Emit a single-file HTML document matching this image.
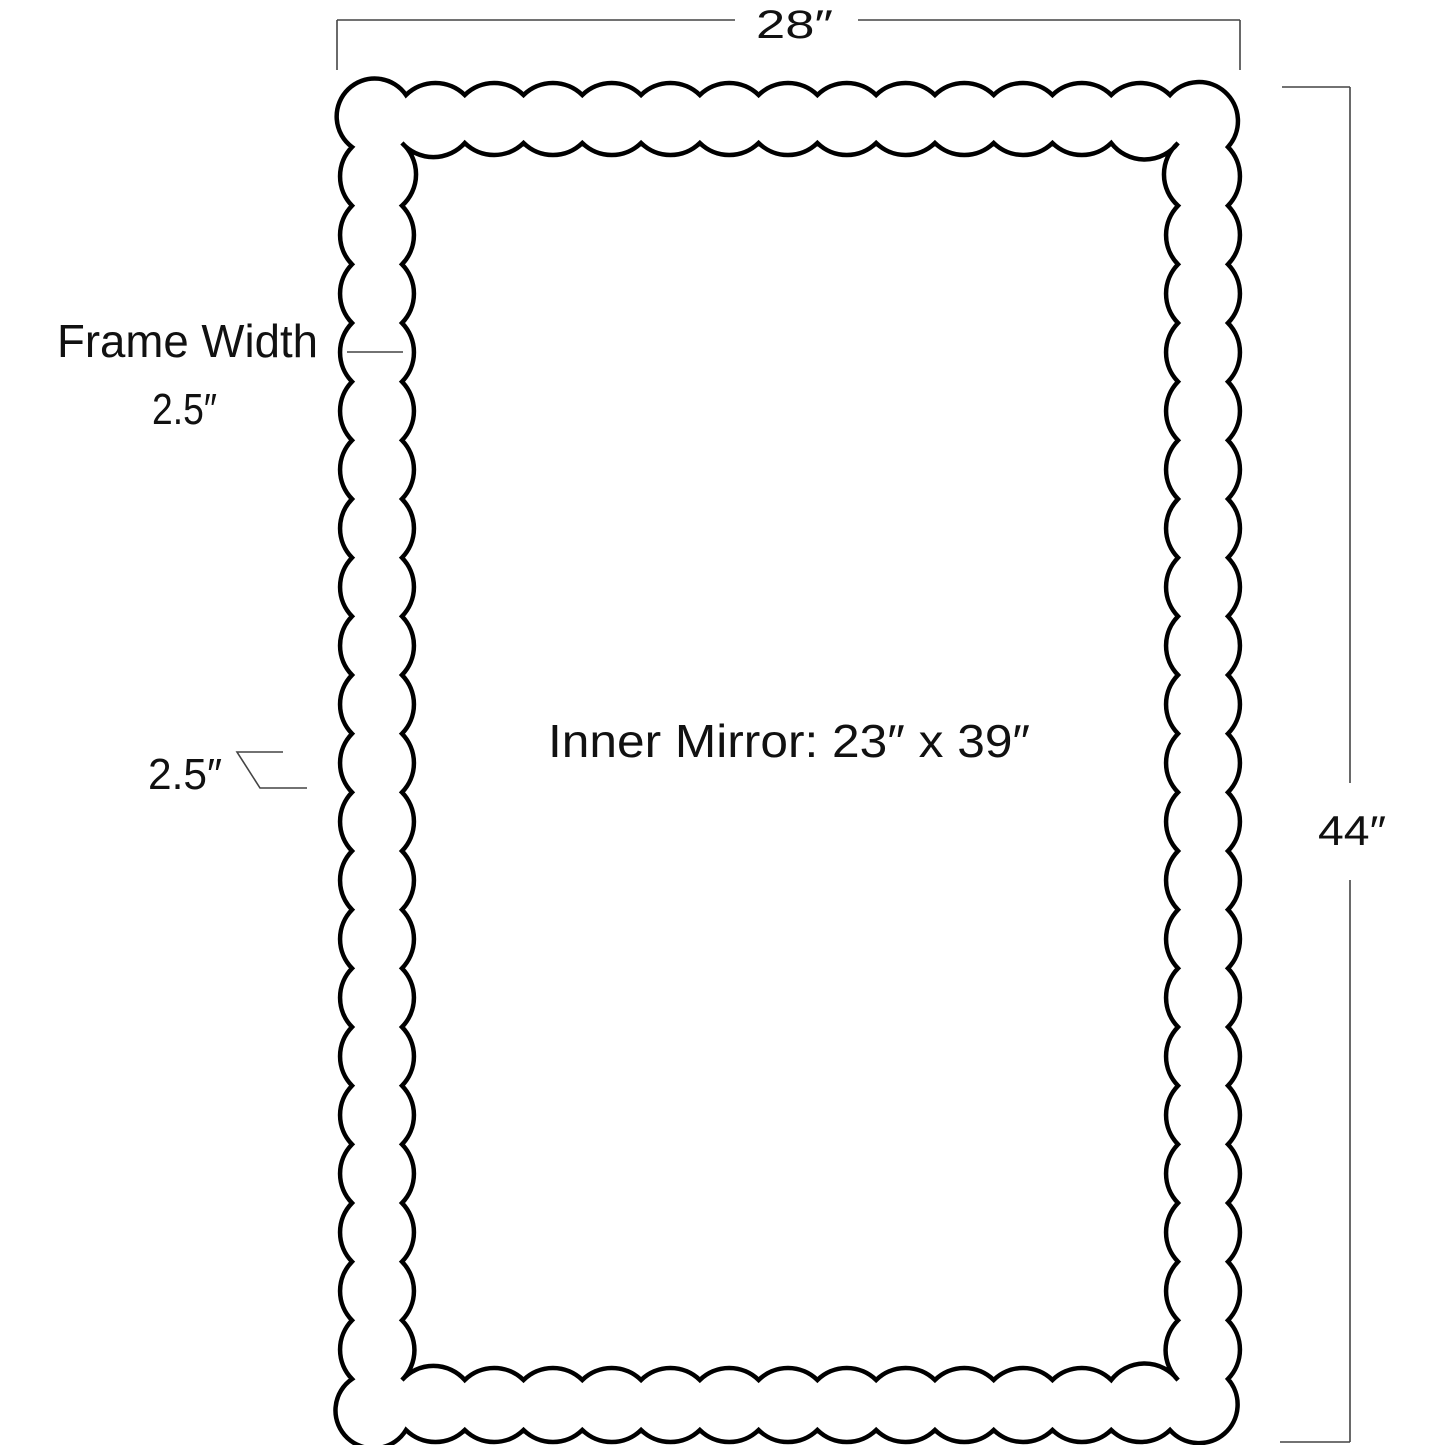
<!DOCTYPE html>
<html><head><meta charset="utf-8"><style>
html,body{margin:0;padding:0;background:#fff}
svg{display:block}
text{font-family:"Liberation Sans",sans-serif;fill:#111}
</style></head><body>
<svg id="s" width="1445" height="1445" viewBox="0 0 1445 1445" xmlns="http://www.w3.org/2000/svg">
<path id="outer" fill="none" stroke="#000" stroke-width="4.5" stroke-linejoin="miter" d=""/>
<path id="inner" fill="none" stroke="#000" stroke-width="4.5" stroke-linejoin="miter" d=""/>
<g stroke="#444" stroke-width="1.6" fill="none">
<line x1="337" y1="20" x2="735" y2="20"/>
<line x1="858" y1="20" x2="1240" y2="20"/>
<line x1="337" y1="20" x2="337" y2="70"/>
<line x1="1240" y1="20" x2="1240" y2="70"/>
<line x1="1282" y1="87" x2="1350" y2="87"/>
<line x1="1350" y1="87" x2="1350" y2="783"/>
<line x1="1350" y1="880" x2="1350" y2="1442"/>
<line x1="1280" y1="1442" x2="1350" y2="1442"/>
<line x1="347" y1="352" x2="403" y2="352"/>
<polyline points="283,752 237,752 260,788 307,788"/>
</g>
<text x="756" y="38" font-size="40" textLength="77" lengthAdjust="spacingAndGlyphs">28″</text>
<text x="1318" y="845" font-size="42" textLength="68" lengthAdjust="spacingAndGlyphs">44″</text>
<text x="57" y="357" font-size="46" textLength="261" lengthAdjust="spacingAndGlyphs">Frame Width</text>
<text x="152" y="424" font-size="44" textLength="65" lengthAdjust="spacingAndGlyphs">2.5″</text>
<text x="148" y="789" font-size="44" textLength="74" lengthAdjust="spacingAndGlyphs">2.5″</text>
<text x="548" y="757" font-size="46" textLength="482" lengthAdjust="spacingAndGlyphs">Inner Mirror: 23″ x 39″</text>
</svg>
<script>
(function(){
var r=42, xs=[], ys=[];
for(var i=0;i<=13;i++) xs.push(406+i*(1170-406)/13);
for(var j=0;j<=21;j++) ys.push(147+j*(1379-147)/21);
var T=95,B=1430,L=352,R=1228,cr=38;
var d="M"+xs[0]+" "+T;
for(i=1;i<=13;i++) d+=" A"+r+" "+r+" 0 0 1 "+xs[i]+" "+T;
d+=" A"+cr+" "+cr+" 0 1 1 "+R+" "+ys[0];
for(j=1;j<=21;j++) d+=" A"+r+" "+r+" 0 0 1 "+R+" "+ys[j];
d+=" A"+cr+" "+cr+" 0 1 1 "+xs[13]+" "+B;
for(i=12;i>=0;i--) d+=" A"+r+" "+r+" 0 0 1 "+xs[i]+" "+B;
d+=" A"+cr+" "+cr+" 0 1 1 "+L+" "+ys[21];
for(j=20;j>=0;j--) d+=" A"+r+" "+r+" 0 0 1 "+L+" "+ys[j];
d+=" A"+cr+" "+cr+" 0 1 1 "+xs[0]+" "+T+" Z";
document.getElementById("outer").setAttribute("d",d);
var iT=143,iB=1380,iL=402,iR=1178;
var hx=[iL]; for(i=1;i<=12;i++) hx.push(xs[i]); hx.push(iR);
var vy=[iT]; for(j=1;j<=20;j++) vy.push(ys[j]); vy.push(iB);
var e="M"+iL+" "+iT;
for(i=1;i<hx.length;i++) e+=" A"+r+" "+r+" 0 0 0 "+hx[i]+" "+iT;
for(j=1;j<vy.length;j++) e+=" A"+r+" "+r+" 0 0 0 "+iR+" "+vy[j];
for(i=hx.length-2;i>=0;i--) e+=" A"+r+" "+r+" 0 0 0 "+hx[i]+" "+iB;
for(j=vy.length-2;j>=0;j--) e+=" A"+r+" "+r+" 0 0 0 "+iL+" "+vy[j];
e+=" Z";
document.getElementById("inner").setAttribute("d",e);
})();
</script>
</body></html>
